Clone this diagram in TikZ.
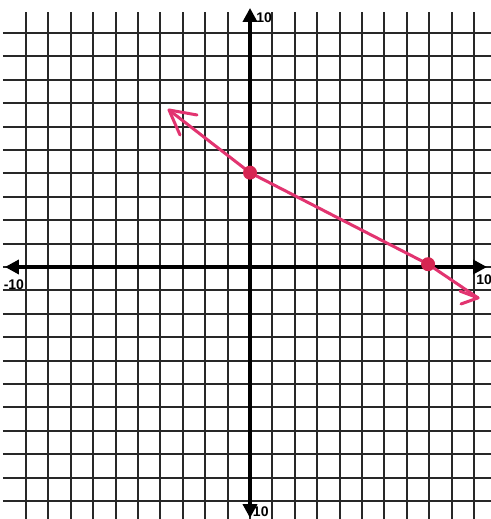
\documentclass[tikz,border=0pt]{standalone}
\usepackage{fontspec}
\setsansfont{Liberation Sans}
\usetikzlibrary{arrows.meta}
\definecolor{gridc}{RGB}{40,40,40}
\definecolor{pen}{RGB}{226,52,112}
\definecolor{dotc}{RGB}{214,38,82}
\tikzset{
  gridline/.style={gridc, line width=1.05pt},
  axisline/.style={black, line width=2pt, {Triangle[length=7pt,width=7pt]}-{Triangle[length=7pt,width=7pt]}},
  penline/.style={pen, line width=1.5pt, line cap=round, line join=round},
  ptdot/.style={circle, fill=dotc, inner sep=0pt, minimum size=7pt},
  axlabel/.style={font=\sffamily\bfseries\fontsize{7}{8}\selectfont, inner sep=0pt}
}
\begin{document}
\begin{tikzpicture}[x=11.2pt,y=11.7pt]
\useasboundingbox[fill=white] (-11.161,-10.769) rectangle (10.714,11.410);
% grid
\foreach \i in {-10,...,10} {
  \draw[gridline] (\i,-10.85) -- (\i,10.9);
  \draw[gridline] (-11.03,\i) -- (10.8,\i);
}
% axes
\coordinate (xl) at (-10.94,0);
\coordinate (xr) at (10.58,0);
\coordinate (yt) at (0,11.07);
\coordinate (yb) at (0,-10.73);
\draw[axisline] (xl) -- (xr);
\draw[axisline] (yb) -- (yt);
% labels
\node[axlabel] (ltop) at (0.63,10.64) {10};
\node[axlabel] (lbot) at (0.48,-10.47) {10};
\node[axlabel] (lleft) at (-10.54,-0.77) {-10};
\node[axlabel] (lright) at (10.45,-0.56) {10};
% red line
\coordinate (ltip) at (-3.616,6.709);
\coordinate (lb1) at (-2.366,6.496);
\coordinate (lb2) at (-3.125,5.641);
\coordinate (p1) at (0,4.03);
\coordinate (p2) at (7.95,0.12);
\coordinate (rtip) at (10.18,-1.32);
\coordinate (rb1) at (9.375,-1.03);
\coordinate (rb2) at (9.42,-1.58);
\draw[penline] (ltip) -- (p1) -- (p2) -- (rtip);
\draw[penline] (lb1) -- (ltip) -- (lb2);
\draw[penline] (rb1) -- (rtip) -- (rb2);
\node[ptdot] (d1) at (p1) {};
\node[ptdot] (d2) at (p2) {};
\end{tikzpicture}
\end{document}
